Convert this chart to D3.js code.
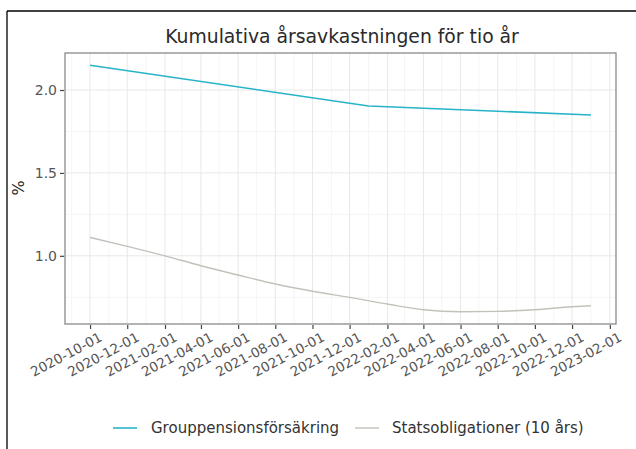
<!DOCTYPE html>
<html>
<head>
<meta charset="utf-8">
<script src="https://cdn.jsdelivr.net/npm/d3@7"></script>
<style>
  html, body { margin: 0; padding: 0; background: #fff; }
  svg { display: block; font-family: "DejaVu Sans", sans-serif; }
</style>
</head>
<body>
<svg id="chart" width="636" height="449"></svg>
<script>
// ---- Data ----
const title = "Kumulativa årsavkastningen för tio år";
const yLabel = "%";
const seriesNames = ["Grouppensionsförsäkring", "Statsobligationer (10 års)"];
const seriesColors = ["#27b4c8", "#c4c1ba"];

const groupDates = ["2020-10-01", "2022-01-01", "2023-01-01"];
const groupValues = [2.149, 1.904, 1.849];

const bondDates = ["2020-10-01", "2020-12-01", "2021-02-01", "2021-04-01", "2021-06-01",
  "2021-08-01", "2021-10-01", "2021-12-01", "2022-02-01", "2022-04-01", "2022-06-01",
  "2022-08-01", "2022-10-01", "2022-12-01", "2023-01-01"];
const bondValues = [1.111, 1.057, 1.000, 0.940, 0.884, 0.830, 0.786, 0.749, 0.709,
  0.675, 0.663, 0.665, 0.675, 0.693, 0.699];

const yTicks = [1.0, 1.5, 2.0];
const yMinor = [0.75, 1.25, 1.75, 2.25];
const xTickLabels = ["2020-10-01", "2020-12-01", "2021-02-01", "2021-04-01", "2021-06-01",
  "2021-08-01", "2021-10-01", "2021-12-01", "2022-02-01", "2022-04-01", "2022-06-01",
  "2022-08-01", "2022-10-01", "2022-12-01", "2023-02-01"];
const xMinorLabels = ["2020-09-01", "2020-11-01", "2021-01-01", "2021-03-01", "2021-05-01",
  "2021-07-01", "2021-09-01", "2021-11-01", "2022-01-01", "2022-03-01", "2022-05-01",
  "2022-07-01", "2022-09-01", "2022-11-01", "2023-01-01", "2023-03-01"];

// ---- Layout ----
const parse = d3.utcParse("%Y-%m-%d");
const panel = { left: 65, right: 616, top: 53, bottom: 324 };

const series = [
  { name: seriesNames[0], color: seriesColors[0], width: 1.6, curve: d3.curveLinear,
    points: groupDates.map((d, i) => ({ date: parse(d), value: groupValues[i] })) },
  { name: seriesNames[1], color: seriesColors[1], width: 1.4, curve: d3.curveMonotoneX,
    points: bondDates.map((d, i) => ({ date: parse(d), value: bondValues[i] })) }
];

const allPts = series.flatMap(s => s.points);
const xExt = d3.extent(allPts, p => +p.date);
const yExt = d3.extent(allPts, p => p.value);
const xPad = (xExt[1] - xExt[0]) * 0.05;
const yPad = (yExt[1] - yExt[0]) * 0.05;

const x = d3.scaleUtc()
  .domain([new Date(xExt[0] - xPad), new Date(xExt[1] + xPad)])
  .range([panel.left, panel.right]);
const y = d3.scaleLinear()
  .domain([yExt[0] - yPad, yExt[1] + yPad])
  .range([panel.bottom, panel.top]);

const svg = d3.select("#chart");

// outer frame (top and left visible)
svg.append("line").attr("x1", 7).attr("x2", 636).attr("y1", 11).attr("y2", 11)
  .attr("stroke", "#000").attr("stroke-width", 1.3);
svg.append("line").attr("x1", 7).attr("x2", 7).attr("y1", 11).attr("y2", 449)
  .attr("stroke", "#000").attr("stroke-width", 1.3);

// title
svg.append("text")
  .attr("x", 342)
  .attr("y", 43)
  .attr("text-anchor", "middle")
  .attr("font-size", 18.8)
  .attr("fill", "#2a2a2a")
  .text(title);

// grid
const grid = svg.append("g");
const xMinorDates = xMinorLabels.map(parse).filter(d => x(d) > panel.left && x(d) < panel.right);
const xMajorDates = xTickLabels.map(parse);
grid.selectAll(".vminor").data(xMinorDates).enter().append("line")
  .attr("x1", d => x(d)).attr("x2", d => x(d))
  .attr("y1", panel.top).attr("y2", panel.bottom)
  .attr("stroke", "#f2f2f2").attr("stroke-width", 0.8);
grid.selectAll(".hminor").data(yMinor.filter(v => y(v) > panel.top && y(v) < panel.bottom)).enter().append("line")
  .attr("x1", panel.left).attr("x2", panel.right)
  .attr("y1", d => y(d)).attr("y2", d => y(d))
  .attr("stroke", "#f2f2f2").attr("stroke-width", 0.8);
grid.selectAll(".vmajor").data(xMajorDates).enter().append("line")
  .attr("x1", d => x(d)).attr("x2", d => x(d))
  .attr("y1", panel.top).attr("y2", panel.bottom)
  .attr("stroke", "#e8e8e8").attr("stroke-width", 1);
grid.selectAll(".hmajor").data(yTicks).enter().append("line")
  .attr("x1", panel.left).attr("x2", panel.right)
  .attr("y1", d => y(d)).attr("y2", d => y(d))
  .attr("stroke", "#e8e8e8").attr("stroke-width", 1);

// lines
svg.selectAll(".series").data(series).enter().append("path")
  .attr("d", s => d3.line().x(p => x(p.date)).y(p => y(p.value)).curve(s.curve)(s.points))
  .attr("fill", "none")
  .attr("stroke", s => s.color)
  .attr("stroke-width", s => s.width)
  .attr("stroke-linejoin", "round");

// panel border
svg.append("rect")
  .attr("x", panel.left).attr("y", panel.top)
  .attr("width", panel.right - panel.left).attr("height", panel.bottom - panel.top)
  .attr("fill", "none").attr("stroke", "#8a8a8a").attr("stroke-width", 1.3);

// axes
const yAxis = d3.axisLeft(y).tickValues(yTicks).tickFormat(d3.format(".1f")).tickSize(4).tickPadding(3);
const gy = svg.append("g").attr("transform", `translate(${panel.left - 1},0)`).call(yAxis);
gy.select(".domain").remove();
gy.selectAll(".tick line").attr("stroke", "#444").attr("stroke-width", 1.2);
gy.selectAll(".tick text").attr("font-size", 14).attr("fill", "#555")
  .attr("font-family", "DejaVu Sans, sans-serif");

const xAxis = d3.axisBottom(x).tickValues(xMajorDates).tickFormat(d3.utcFormat("%Y-%m-%d")).tickSize(4).tickPadding(2);
const gx = svg.append("g").attr("transform", `translate(0,${panel.bottom + 1})`).call(xAxis);
gx.select(".domain").remove();
gx.selectAll(".tick line").attr("stroke", "#444").attr("stroke-width", 1.2);
gx.selectAll(".tick text")
  .attr("font-size", 13.5).attr("fill", "#555")
  .attr("font-family", "DejaVu Sans, sans-serif")
  .attr("text-anchor", "end")
  .attr("dy", "0.75em")
  .attr("transform", "translate(5,1) rotate(-28)");

// y label
svg.append("text")
  .attr("transform", "translate(24,188) rotate(-90)")
  .attr("text-anchor", "middle")
  .attr("font-size", 16)
  .attr("fill", "#222")
  .text(yLabel);

// legend
const legendItems = [
  { x0: 113, tx: 151 },
  { x0: 355, tx: 392 }
];
const lg = svg.append("g");
series.forEach((s, i) => {
  lg.append("line")
    .attr("x1", legendItems[i].x0).attr("x2", legendItems[i].x0 + 24)
    .attr("y1", 428).attr("y2", 428)
    .attr("stroke", s.color).attr("stroke-width", s.width);
  lg.append("text")
    .attr("x", legendItems[i].tx).attr("y", 433)
    .attr("font-size", 15)
    .attr("fill", "#333")
    .text(s.name);
});
</script>
</body>
</html>
